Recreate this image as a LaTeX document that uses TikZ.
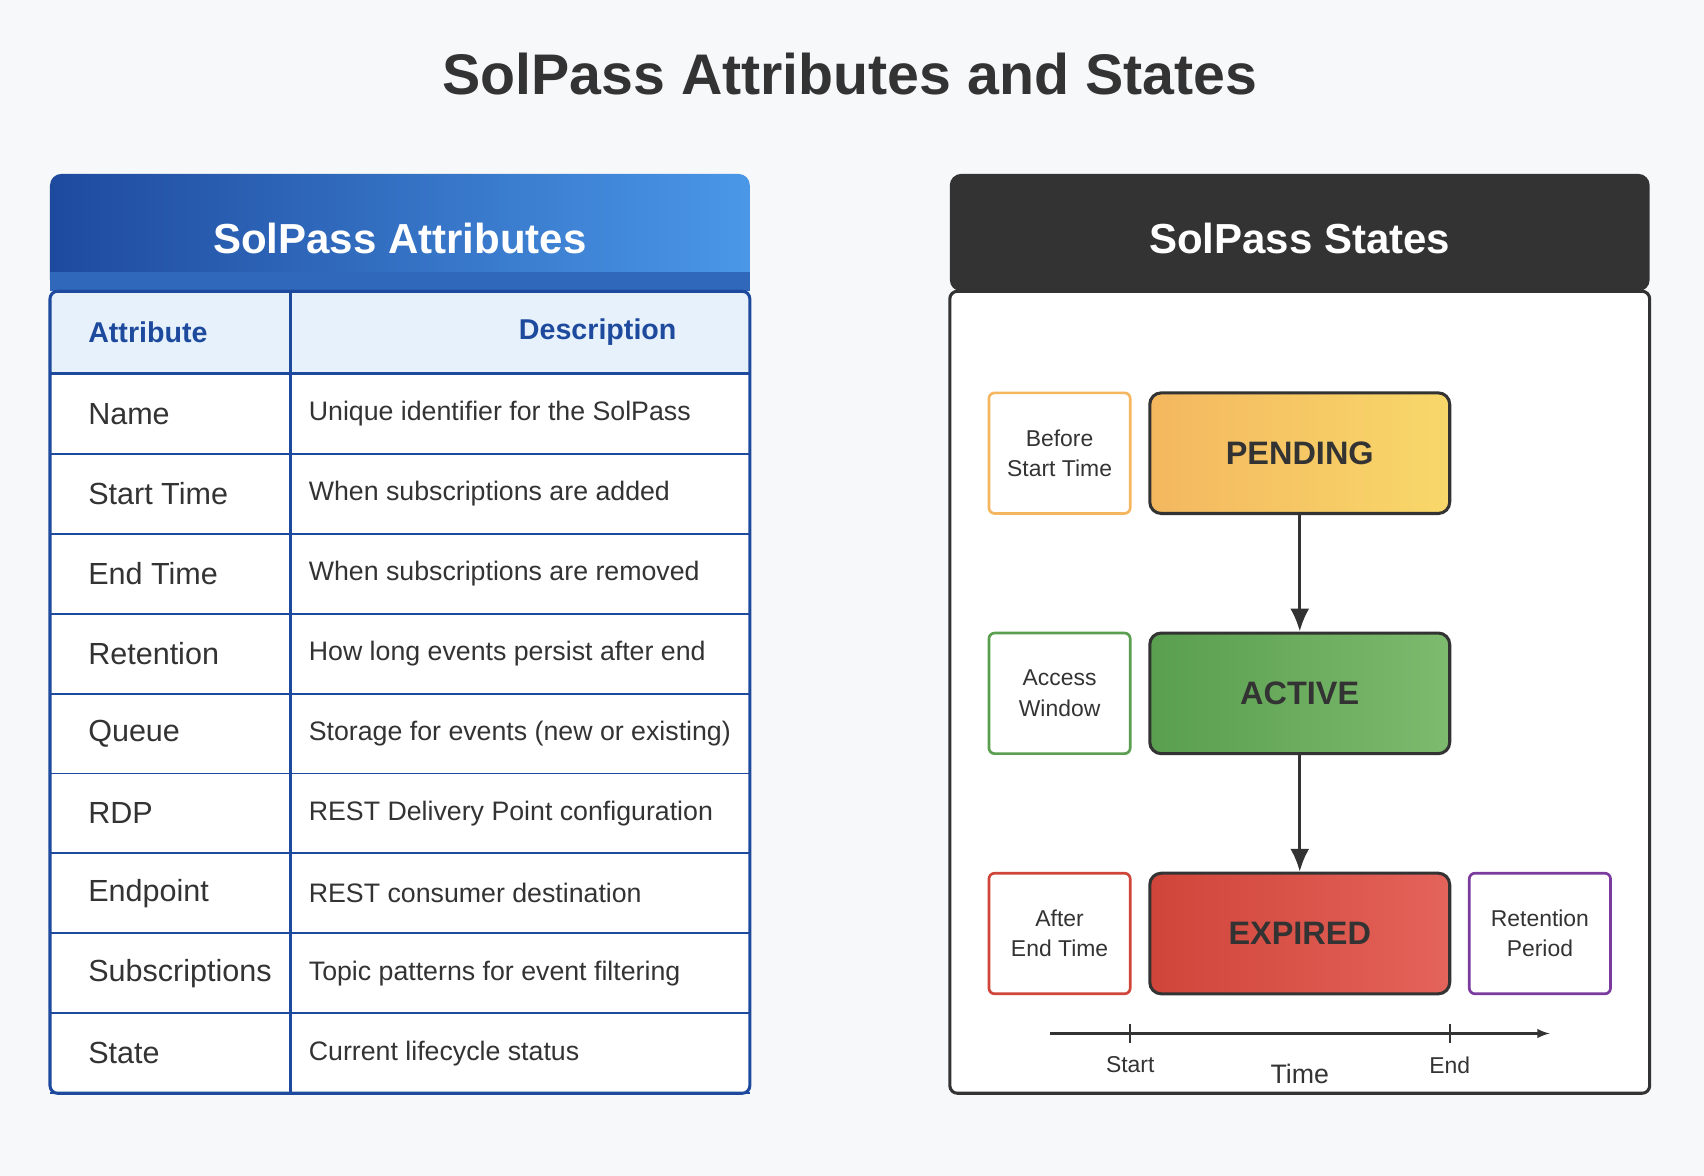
\documentclass[tikz,border=0pt]{standalone}
\usepackage{fontspec}
\setmainfont{Liberation Sans}
\usetikzlibrary{positioning, arrows.meta}

\definecolor{bgcol}{HTML}{F7F8FA}
\definecolor{navy}{HTML}{1E4A9E}
\definecolor{skyblue}{HTML}{4A97E8}
\definecolor{paleblue}{HTML}{E6F1FB}
\definecolor{darkgrey}{HTML}{333333}
\definecolor{pendA}{HTML}{F4B75F}
\definecolor{pendB}{HTML}{F8D86A}
\definecolor{actA}{HTML}{5A9E4F}
\definecolor{actB}{HTML}{7DBB6F}
\definecolor{expA}{HTML}{D0453A}
\definecolor{expB}{HTML}{E4635A}
\definecolor{purp}{HTML}{7B3A9E}

\tikzset{
	statebox/.style = {draw = darkgrey, line width = 1.6pt, rounded corners = 6pt,
		minimum width = 276 * 0.02cm, minimum height = 111 * 0.02cm,
		font = \fontsize{17}{20}\selectfont\bfseries, text = darkgrey},
	notebox/.style = {draw = #1, fill = white, line width = 1.4pt, rounded corners = 3pt,
		minimum width = 130 * 0.02cm, minimum height = 111 * 0.02cm, align = center,
		font = \fontsize{12}{16}\selectfont, text = darkgrey},
	cell/.style = {anchor = west, font = \fontsize{16}{19}\selectfont, text = darkgrey},
	desc/.style = {anchor = west, font = \fontsize{14}{17}\selectfont, text = darkgrey}
}

\begin{document}
\begin{tikzpicture}[x = 0.02cm, y = -0.02cm, > = latex]

	% Background and title

	\fill [bgcol] (0, 0) rectangle (1568, 1082);
	\node (title) at (782, 68) {\fontsize{30}{36}\selectfont\bfseries\color{darkgrey} SolPass Attributes and States};

	% Attributes panel

	\def\rowh{73.55}	% Row height of the attribute table
	\def\rowtop{344}	% Top of first data row

	\shade [left color = navy, right color = skyblue, rounded corners = 6pt]
		(46, 268) rectangle (690, 160);
	\fill [navy!60!skyblue] (46, 250) rectangle (690, 268);
	\node (attrhead) at (368, 219) {\fontsize{22}{26}\selectfont\bfseries\color{white} SolPass Attributes};

	\fill [white] (46, 268) rectangle (690, 1006);
	\fill [paleblue] (46, 268) rectangle (690, \rowtop);
	\node [cell, font = \fontsize{15}{18}\selectfont\bfseries, text = navy] (colattr) at (75, 306) {Attribute};
	\node [font = \fontsize{15}{18}\selectfont\bfseries, text = navy] (coldesc) at (550, 306) {Description};

	\foreach \name/\descr [count = \i] in {Name/Unique identifier for the SolPass,
		Start Time/When subscriptions are added,
		End Time/When subscriptions are removed,
		Retention/How long events persist after end,
		Queue/Storage for events (new or existing),
		RDP/REST Delivery Point configuration,
		Endpoint/REST consumer destination,
		Subscriptions/Topic patterns for event filtering,
		State/Current lifecycle status}
	{
		\node [cell] (attr-\i) at (75, {\rowtop + (\i - 0.5) * \rowh}) {\name};
		\node [desc] (desc-\i) at (278, {\rowtop + (\i - 0.5) * \rowh}) {\descr};
		\draw [navy, line width = 1pt] (46, {\rowtop + \i * \rowh}) -- (690, {\rowtop + \i * \rowh});
	}
	\draw [navy, line width = 1.6pt] (46, \rowtop) -- (690, \rowtop);
	\draw [navy, line width = 1.6pt] (267, 268) -- (267, 1006);
	\draw [navy, line width = 1.6pt, rounded corners = 4pt]
		(46, 268) -- (46, 1006) -- (690, 1006) -- (690, 268) -- cycle;

	% States panel

	\fill [darkgrey, rounded corners = 6pt] (874, 268) rectangle (1518, 160);
	\node (statehead) at (1196, 219) {\fontsize{22}{26}\selectfont\bfseries\color{white} SolPass States};
	\draw [darkgrey, fill = white, line width = 1.6pt, rounded corners = 4pt]
		(874, 268) rectangle (1518, 1006);

	\node [statebox, left color = pendA, right color = pendB] (pending) at (1196, 417) {PENDING};
	\node [statebox, left color = actA, right color = actB] (active) at (1196, 638) {ACTIVE};
	\node [statebox, left color = expA, right color = expB] (expired) at (1196, 859) {EXPIRED};

	\node [notebox = pendA] (before) at (975, 417) {Before\\Start Time};
	\node [notebox = actA] (window) at (975, 638) {Access\\Window};
	\node [notebox = expA] (after) at (975, 859) {After\\End Time};
	\node [notebox = purp] (retain) at (1417, 859) {Retention\\Period};

	\draw [-{Latex[length = 12pt, width = 10pt]}, darkgrey, line width = 1.6pt] (pending) -- (active);
	\draw [-{Latex[length = 12pt, width = 10pt]}, darkgrey, line width = 1.6pt] (active) -- (expired);

	% Timeline

	\coordinate (tstart) at (966, 951);
	\coordinate (tend) at (1426, 951);
	\draw [->, darkgrey, line width = 1.2pt] (tstart) -- (tend);
	\draw [darkgrey, line width = 1.2pt] (1040, 942) -- (1040, 960);
	\draw [darkgrey, line width = 1.2pt] (1334, 942) -- (1334, 960);
	\node [font = \fontsize{12}{14}\selectfont, text = darkgrey] (startlbl) at (1040, 980) {Start};
	\node [font = \fontsize{12}{14}\selectfont, text = darkgrey] (endlbl) at (1334, 980) {End};
	\node [font = \fontsize{14}{16}\selectfont, text = darkgrey] (timelbl) at (1196, 988) {Time};

\end{tikzpicture}
\end{document}
